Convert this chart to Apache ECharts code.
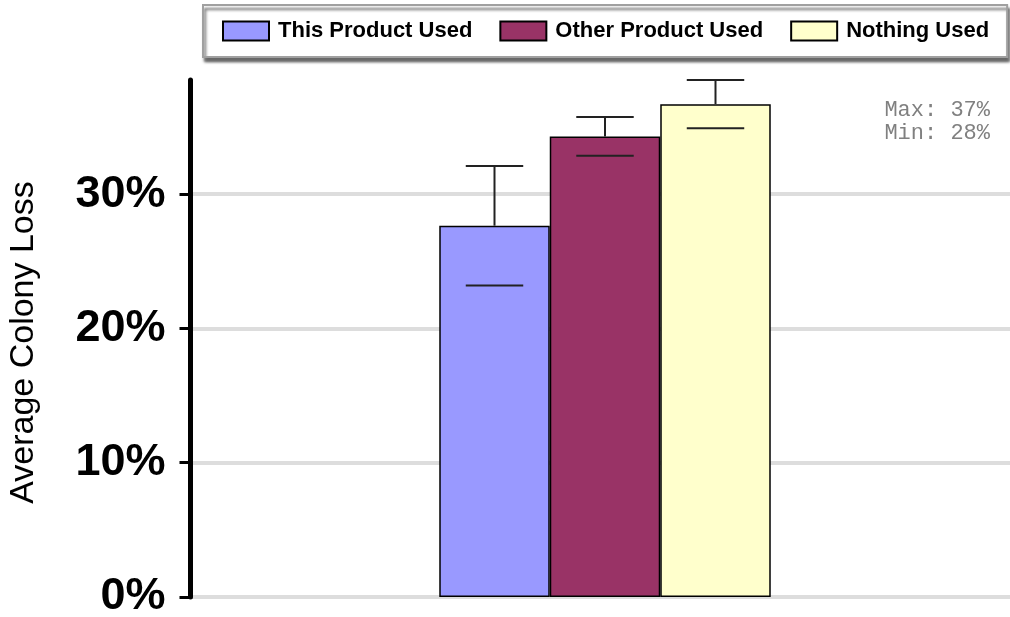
<!DOCTYPE html>
<html>
<head>
<meta charset="utf-8">
<script src="https://cdn.jsdelivr.net/npm/echarts@6/dist/echarts.min.js"></script>
<style>
html,body{margin:0;padding:0;background:#fff;}
#chart{width:1010px;height:617px;}
</style>
</head>
<body>
<div id="chart"></div>
<script>
// ---- data ----
var seriesNames = ['This Product Used', 'Other Product Used', 'Nothing Used'];
var seriesColors = ['#9999ff', '#993366', '#ffffcc'];
var meanLoss = [27.65, 34.3, 36.7];
var errLoss = [4.45, 1.45, 1.8];
var yTicks = [0, 10, 20, 30];
var categories = [''];

var BAR_W = 110.5;

var chart = echarts.init(document.getElementById('chart'));

var maxVal = Math.max.apply(null, meanLoss);
var minVal = Math.min.apply(null, meanLoss);

var series = seriesNames.map(function (name, i) {
  return {
    name: name,
    type: 'bar',
    barWidth: BAR_W,
    barGap: 0,
    data: [meanLoss[i]],
    itemStyle: { color: seriesColors[i], borderColor: '#000', borderWidth: 1.5 },
    emphasis: { disabled: true },
    z: 2
  };
});

series.push({
  type: 'custom',
  name: 'err',
  z: 5,
  silent: true,
  data: meanLoss.map(function (m, i) { return [i, m, errLoss[i]]; }),
  renderItem: function (params, api) {
    var i = api.value(0);
    var m = api.value(1);
    var e = api.value(2);
    var n = meanLoss.length;
    var off = (i - (n - 1) / 2) * BAR_W;
    var pm = api.coord([0, m]);
    var ph = api.coord([0, m + e]);
    var pl = api.coord([0, m - e]);
    var x = pm[0] + off;
    var half = BAR_W * 0.26;
    var st = { stroke: '#222', lineWidth: 2 };
    return {
      type: 'group',
      children: [
        { type: 'line', shape: { x1: x, y1: pm[1], x2: x, y2: ph[1] }, style: st },
        { type: 'line', shape: { x1: x - half, y1: ph[1], x2: x + half, y2: ph[1] }, style: st },
        { type: 'line', shape: { x1: x - half, y1: pl[1], x2: x + half, y2: pl[1] }, style: st }
      ]
    };
  }
});

chart.setOption({
  animation: false,
  title: {
    text: 'Max: ' + Math.round(maxVal) + '%\nMin: ' + Math.round(minVal) + '%',
    right: 15,
    top: 94,
    textStyle: {
      fontFamily: '"Liberation Mono", "DejaVu Sans Mono", monospace',
      fontSize: 22,
      fontWeight: 'normal',
      color: '#808080',
      lineHeight: 23
    }
  },
  legend: {
    data: seriesNames,
    icon: 'rect',
    left: 203,
    top: 5,
    padding: [15, 18, 15, 19],
    itemWidth: 46,
    itemHeight: 19,
    itemGap: 27,
    backgroundColor: '#fff',
    borderColor: '#a0a0a0',
    borderWidth: 2,
    shadowColor: 'rgba(0,0,0,0.6)',
    shadowBlur: 3,
    shadowOffsetX: 2,
    shadowOffsetY: 4,
    selectedMode: false,
    textStyle: {
      fontFamily: '"Liberation Sans", Arial, sans-serif',
      fontSize: 22,
      fontWeight: 'bold',
      color: '#000',
      lineHeight: 22,
      padding: [0, 0, 0, 4]
    }
  },
  grid: { left: 190.5, top: 80, width: 829, bottom: 20, containLabel: false, outerBoundsMode: 'none' },
  xAxis: {
    type: 'category',
    data: categories,
    axisLine: { show: false },
    axisTick: { show: false },
    axisLabel: { show: false },
    splitLine: { show: false }
  },
  yAxis: {
    type: 'value',
    min: 0,
    max: 38.5,
    interval: 10,
    name: 'Average Colony Loss',
    nameLocation: 'middle',
    nameGap: 150,
    nameTextStyle: {
      fontFamily: '"Liberation Sans", Arial, sans-serif',
      fontSize: 34,
      color: '#000',
      padding: [0, 8, 0, 0]
    },
    axisLine: { show: true, lineStyle: { color: '#000', width: 5 } },
    axisTick: { show: true, length: 11, lineStyle: { color: '#000', width: 3 }, customValues: yTicks },
    axisLabel: {
      customValues: yTicks,
      margin: 25,
      formatter: '{value}%',
      fontFamily: '"Liberation Sans", Arial, sans-serif',
      fontSize: 45,
      fontWeight: 'bold',
      color: '#000'
    },
    splitLine: { show: true, lineStyle: { color: '#dddddd', width: 4 } }
  },
  series: series
});
</script>
</body>
</html>
